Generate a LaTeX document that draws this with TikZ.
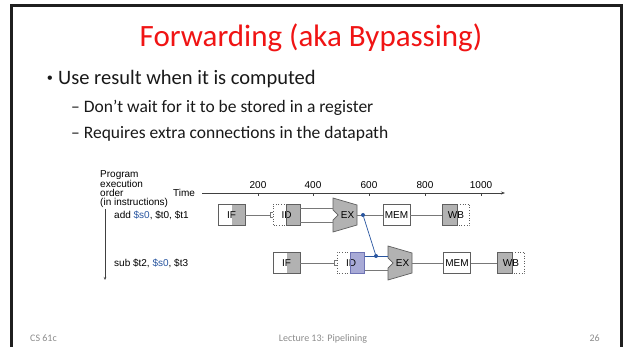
\documentclass[tikz,border=0pt]{standalone}
\usepackage{fontspec}
\setmainfont{Carlito}
\newfontfamily\figfont{Liberation Sans}
\usetikzlibrary{arrows.meta,calc}

\definecolor{titlered}{RGB}{240,20,20}
\definecolor{stagegray}{RGB}{178,178,178}
\definecolor{edgegray}{RGB}{95,95,95}
\definecolor{wiregray}{RGB}{120,120,120}
\definecolor{regblue}{RGB}{40,85,160}
\definecolor{idblue}{RGB}{168,170,214}
\definecolor{idedge}{RGB}{110,115,180}
\definecolor{footgray}{RGB}{140,140,140}

\tikzset{
  slidetext/.style={inner sep=0pt, text=black!90},
  figtext/.style={font=\figfont\fontsize{10}{11}\selectfont, inner sep=0pt},
  stagebox/.style={figtext, rectangle, minimum width=27pt, minimum height=21pt},
  solidedge/.style={draw=edgegray, line width=0.7pt},
  dottededge/.style={draw=edgegray, line width=0.6pt, dotted},
  wire/.style={draw=wiregray, line width=0.6pt},
  fwd/.style={draw=regblue, line width=0.7pt},
  fwddot/.style={circle, fill=regblue, inner sep=0pt, minimum size=4pt},
  foottext/.style={inner sep=0pt, text=footgray, font=\fontsize{10}{11}\selectfont},
  grayright/.style={path picture={\fill[stagegray]
      ([xshift=#1]path picture bounding box.north west) rectangle
      (path picture bounding box.south east);}},
  blueright/.style={path picture={\fill[idblue]
      ([xshift=#1]path picture bounding box.north west) rectangle
      (path picture bounding box.south east);}},
  grayleft/.style={path picture={\fill[stagegray]
      (path picture bounding box.north west) rectangle
      ([xshift=#1]path picture bounding box.south west);}},
}

\begin{document}
\begin{tikzpicture}[x=1pt,y=-1pt]
\useasboundingbox (0,0) rectangle (623,347);
\fill[white] (0,0) rectangle (623,347);

% slide frame
\draw[line width=3pt, black!88] (11.5,348) -- (11.5,5.5) -- (621.5,5.5) -- (621.5,348);

% title and bullets
\node[anchor=base, inner sep=0pt, text=titlered, font=\fontsize{31}{31}\selectfont]
  (title) at (311,47) {Forwarding (aka Bypassing)};
\node[slidetext, anchor=base west, font=\figfont\fontsize{16}{17}\selectfont] (dot1) at (47,84) {•};
\node[slidetext, anchor=base west, font=\fontsize{20.5}{21}\selectfont] (b1) at (58,85) {Use result when it is computed};
\node[slidetext, anchor=base west, font=\fontsize{17.5}{19}\selectfont] (b2) at (71,113) {– Don’t wait for it to be stored in a register};
\node[slidetext, anchor=base west, font=\fontsize{17.5}{19}\selectfont] (b3) at (71,139) {– Requires extra connections in the datapath};

% footer
\node[foottext, anchor=base west] (foot1) at (30,341) {CS 61c};
\node[foottext, anchor=base] (foot2) at (323,341) {Lecture 13: Pipelining};
\node[foottext, anchor=base east] (foot3) at (600,341) {26};

% axis labels
\node[figtext, anchor=west] (prog1) at (100,175) {Program};
\node[figtext, anchor=west] (prog2) at (100,184) {execution};
\node[figtext, anchor=west] (prog3) at (100,193) {order};
\node[figtext, anchor=west] (prog4) at (100,203) {(in instructions)};
\node[figtext, anchor=west] (time) at (173,193) {Time};

% time axis with ticks
\coordinate (tend) at (505,193);
\draw[wire, draw=black!75, -{Stealth[length=4pt,width=3pt]}] ([xshift=7pt]time.east) -- (tend);
\foreach \x/\t in {258/200, 313/400, 369/600, 425/800, 481/1000} {
  \draw[draw=black!75, line width=0.5pt] (\x,193) -- (\x,196);
  \node[figtext] at (\x,185) {\t};
}

% instruction order arrow
\coordinate (otop) at (105,209);
\coordinate (obot) at (105,280);
\draw[draw=black!75, line width=0.6pt, -{Stealth[length=3pt,width=2.5pt]}] (otop) -- (obot);

\node[figtext, anchor=west] (ins1) at (114,215) {add \textcolor{regblue}{\$s0}, \$t0, \$t1};
\node[figtext, anchor=west] (ins2) at (114,263) {sub \$t2, \textcolor{regblue}{\$s0}, \$t3};

% ---------- first instruction ----------
\node[stagebox, solidedge, grayright=14pt] (if1) at (231.5,215) {IF};
\node[stagebox, grayright=14pt] (id1) at (286.5,215) {ID};
\draw[dottededge] ([xshift=14pt]id1.north west) -- (id1.north west) -- (id1.south west) -- ([xshift=14pt]id1.south west);
\draw[solidedge] ([xshift=14pt]id1.north west) rectangle (id1.south east);
\coordinate (exc1) at (345,215);
\draw[solidedge, fill=stagegray] ($(exc1)+(-12,-17)$) -- ++(24,7) -- ++(0,20) -- ++(-24,7)
  -- ++(0,-12) -- ++(5,-5) -- ++(-5,-5) -- cycle;
\node[figtext] (ex1) at ($(exc1)+(2.5,0)$) {EX};
\node[stagebox, solidedge, fill=white] (mem1) at (396.5,215) {MEM};
\node[stagebox, grayleft=15pt] (wb1) at (456,215) {WB};
\draw[solidedge] (wb1.north west) rectangle ([xshift=15pt]wb1.south west);
\draw[dottededge] ([xshift=15pt]wb1.north west) -- (wb1.north east) -- (wb1.south east) -- ([xshift=15pt]wb1.south west);

\draw[wire] (if1.east) -- ([xshift=-3pt]id1.west);
\draw[wire] ($(id1.west)+(0,-2.5)$) -- ++(-3,0) -- ++(0,5) -- ++(3,0);
\draw[wire] ($(id1.east)+(0,-7)$) -- ($(exc1)+(-12,-7)$);
\draw[wire] ($(id1.east)+(0,7)$) -- ($(exc1)+(-12,7)$);
\draw[wire] ($(exc1)+(12,0)$) -- (mem1.west);
\draw[wire] (mem1.east) -- (wb1.west);

% ---------- second instruction ----------
\node[stagebox, solidedge, grayright=14pt] (if2) at (286.5,263) {IF};
\node[stagebox, blueright=13pt] (id2) at (351,263) {ID};
\draw[dottededge] ([xshift=13pt]id2.north west) -- (id2.north west) -- (id2.south west) -- ([xshift=13pt]id2.south west);
\draw[draw=idedge, line width=0.7pt] ([xshift=13pt]id2.north west) rectangle (id2.south east);
\coordinate (exc2) at (400,263);
\draw[solidedge, fill=stagegray] ($(exc2)+(-12,-17)$) -- ++(24,7) -- ++(0,20) -- ++(-24,7)
  -- ++(0,-12) -- ++(5,-5) -- ++(-5,-5) -- cycle;
\node[figtext] (ex2) at ($(exc2)+(2.5,0)$) {EX};
\node[stagebox, solidedge, fill=white] (mem2) at (457,263) {MEM};
\node[stagebox, grayleft=15pt] (wb2) at (511,263) {WB};
\draw[solidedge] (wb2.north west) rectangle ([xshift=15pt]wb2.south west);
\draw[dottededge] ([xshift=15pt]wb2.north west) -- (wb2.north east) -- (wb2.south east) -- ([xshift=15pt]wb2.south west);

\draw[wire] (if2.east) -- ([xshift=-3pt]id2.west);
\draw[wire] ($(id2.west)+(0,-2.5)$) -- ++(-3,0) -- ++(0,5) -- ++(3,0);
\draw[fwd] ($(id2.east)+(0,-7)$) -- ($(exc2)+(-12,-7)$);
\draw[wire] ($(id2.east)+(0,7)$) -- ($(exc2)+(-12,7)$);
\draw[wire] ($(exc2)+(12,0)$) -- (mem2.west);
\draw[wire] (mem2.east) -- (wb2.west);

% forwarding path from EX output to the next EX input
\node[fwddot] (fa) at (363,215) {};
\node[fwddot] (fb) at (376,256) {};
\draw[fwd] (fa) -- (fb);
\end{tikzpicture}
\end{document}
